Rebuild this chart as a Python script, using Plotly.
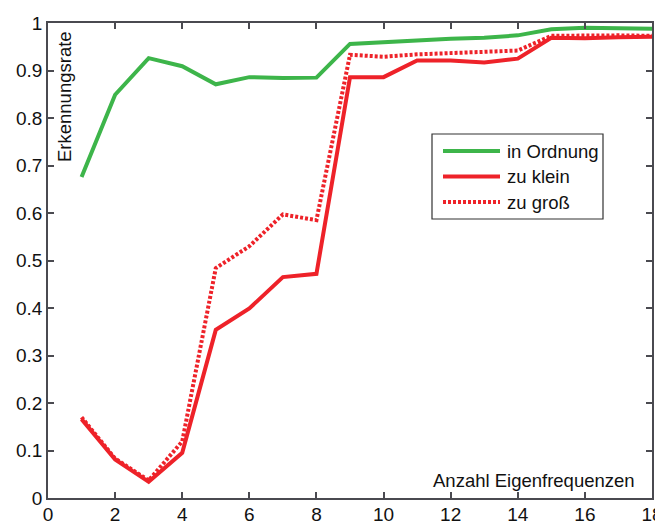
import plotly.graph_objects as go

x_vals = list(range(1, 19))
in_ordnung = [0.676, 0.849, 0.926, 0.909, 0.871, 0.886, 0.884, 0.885, 0.956,
              0.960, 0.965, 0.967, 0.969, 0.974, 0.987, 0.990, 0.989, 0.988]
zu_klein = [0.166, 0.081, 0.034, 0.095, 0.354, 0.399, 0.465, 0.472, 0.886,
            0.886, 0.921, 0.921, 0.917, 0.925, 0.969, 0.968, 0.970, 0.971]
zu_gross = [0.170, 0.083, 0.037, 0.119, 0.484, 0.530, 0.597, 0.585, 0.933,
            0.929, 0.934, 0.937, 0.940, 0.942, 0.973, 0.974, 0.974, 0.973]
series_names = ["in Ordnung", "zu klein", "zu groß"]
x_ticks = [0, 2, 4, 6, 8, 10, 12, 14, 16, 18]
y_ticks = [0, 0.1, 0.2, 0.3, 0.4, 0.5, 0.6, 0.7, 0.8, 0.9, 1]
y_ticklabels = ["0", "0.1", "0.2", "0.3", "0.4", "0.5", "0.6", "0.7", "0.8", "0.9", "1"]

GREEN = "#3db54a"
RED = "#ee2229"
AXC = "#4a4a50"
FONT = "Liberation Sans, Arial, sans-serif"

# the page places the figure 8px from the top-left corner of the window
OFF = 8
W, H = 663 - OFF, 524 - OFF
# plot area in window pixels: x 48..652, y 23..498
L, R, T, B = 48 - OFF, W - (652 - OFF), 23 - OFF, H - (498 - OFF)
pw, ph = W - L - R, H - T - B

def px_x(p):  # window px -> paper
    return (p - OFF - L) / pw

def px_y(p):
    return (H - B - (p - OFF)) / ph

fig = go.Figure()
styles = [dict(color=GREEN, width=4), dict(color=RED, width=4),
          dict(color=RED, width=4, dash="3px,2px")]
for name, ys, st in zip(series_names, [in_ordnung, zu_klein, zu_gross], styles):
    fig.add_trace(go.Scatter(x=x_vals, y=ys, mode="lines", name=name, line=st,
                             showlegend=False))

shapes = []
annotations = []

# manual legend
shapes.append(dict(type="rect", xref="paper", yref="paper", x0=px_x(432), x1=px_x(603),
                   y0=px_y(219), y1=px_y(134), fillcolor="white", line=dict(color="#333", width=1.2),
                   layer="above"))
for i, (name, st) in enumerate(zip(series_names, styles)):
    yy = 151 + i * 25.5
    line = dict(color=st["color"], width=4)
    if "dash" in st:
        line["dash"] = st["dash"]
    shapes.append(dict(type="line", xref="paper", yref="paper", x0=px_x(443), x1=px_x(500),
                       y0=px_y(yy), y1=px_y(yy), line=line, layer="above"))
    annotations.append(dict(text=name, xref="paper", yref="paper", x=px_x(505), y=px_y(yy),
                            xanchor="left", yanchor="middle", showarrow=False,
                            font=dict(family=FONT, size=18.5, color="#111")))

annotations.append(dict(text="Erkennungsrate", xref="paper", yref="paper", x=px_x(65), y=px_y(97),
                        textangle=-90, xanchor="center", yanchor="middle", showarrow=False,
                        font=dict(family=FONT, size=18.5, color="#111")))
annotations.append(dict(text="Anzahl Eigenfrequenzen", xref="paper", yref="paper", x=px_x(637),
                        y=px_y(480), xanchor="right", yanchor="middle", showarrow=False,
                        font=dict(family=FONT, size=18.5, color="#111")))

axis_common = dict(showgrid=False, zeroline=False, showline=True, linecolor=AXC, linewidth=1.5,
                   mirror="ticks", ticks="inside", ticklen=6, tickwidth=1.5, tickcolor=AXC,
                   automargin=False,
                   tickfont=dict(family=FONT, size=19, color="#111"))
fig.update_layout(
    width=W, height=H, margin=dict(l=L, r=R, t=T, b=B, pad=0),
    paper_bgcolor="white", plot_bgcolor="white",
    xaxis=dict(range=[0, 18], tickvals=x_ticks, ticklabelstandoff=-2, **axis_common),
    yaxis=dict(range=[0, 1], tickvals=y_ticks, ticktext=y_ticklabels, **axis_common),
    shapes=shapes, annotations=annotations, showlegend=False,
)
fig.write_html("out.html")
